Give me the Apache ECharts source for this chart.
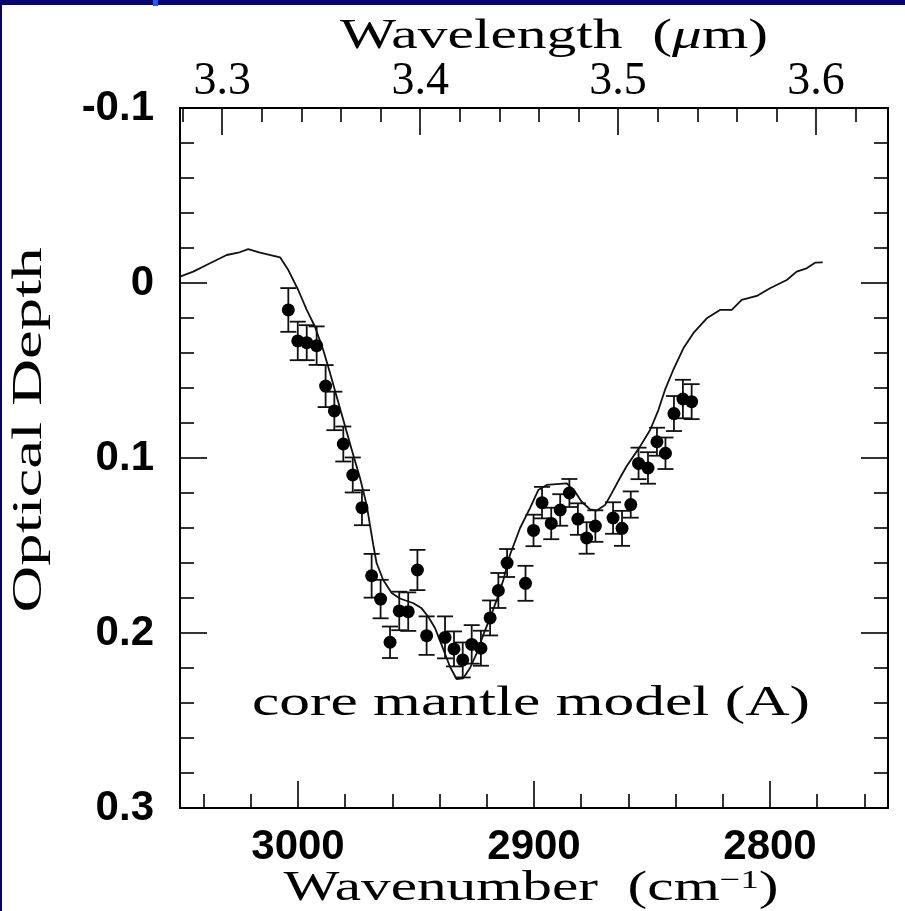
<!DOCTYPE html>
<html>
<head>
<meta charset="utf-8">
<script src="https://cdn.jsdelivr.net/npm/echarts@6/dist/echarts.min.js"></script>
<style>
html,body{margin:0;padding:0;background:#fff;}
#chart{width:905px;height:911px;}
</style>
</head>
<body>
<div id="chart"></div>
<script>
// ---- Observed data (wavenumber in cm^-1, optical depth) ----
const wavenumber = [3004.1, 3000.1, 2996.3, 2992.1, 2988.3, 2984.6, 2980.8, 2976.8, 2972.9, 2968.8,
  2965.0, 2961.0, 2957.1, 2953.3, 2949.4, 2945.5, 2937.7, 2933.9, 2930.2, 2926.4,
  2922.5, 2918.6, 2915.1, 2911.4, 2903.6, 2900.2, 2896.6, 2892.7, 2888.9, 2885.0,
  2881.4, 2877.7, 2874.0, 2866.5, 2862.7, 2859.0, 2855.7, 2851.7, 2847.9, 2844.3,
  2840.7, 2836.9, 2833.2];
const opticalDepth = [0.0154, 0.0331, 0.0341, 0.0358, 0.0589, 0.0731, 0.0920, 0.1097, 0.1284, 0.1673,
  0.1806, 0.2053, 0.1874, 0.1878, 0.1640, 0.2015, 0.2025, 0.2091, 0.2154, 0.2065,
  0.2087, 0.1914, 0.1757, 0.1600, 0.1716, 0.1414, 0.1255, 0.1374, 0.1297, 0.1200,
  0.1349, 0.1457, 0.1389, 0.1343, 0.1402, 0.1266, 0.1031, 0.1057, 0.0907, 0.0973,
  0.0746, 0.0663, 0.0678];
const depthError = [0.0125, 0.011, 0.010, 0.011, 0.012, 0.011, 0.010, 0.010, 0.010, 0.0125,
  0.011, 0.009, 0.011, 0.011, 0.0115, 0.011, 0.012, 0.010, 0.010, 0.011,
  0.010, 0.010, 0.010, 0.008, 0.010, 0.009, 0.009, 0.009, 0.009, 0.008,
  0.009, 0.009, 0.009, 0.009, 0.010, 0.0075, 0.009, 0.009, 0.008, 0.009,
  0.010, 0.011, 0.010];

// ---- Core mantle model (A) ----
const modelWavenumber = [3050, 3044.4, 3037.3, 3030.2, 3025.3, 3021.1, 3016.1, 3007.6, 3004.1, 2999.9,
  2996.3, 2992.8, 2989.3, 2986.4, 2983.6, 2980.8, 2977.2, 2973.7, 2970.9, 2969.5,
  2968.1, 2966.7, 2963.9, 2960.3, 2956.8, 2951.1, 2947.6, 2944.8, 2941.9, 2939.1,
  2935.6, 2932.8, 2930.0, 2927.1, 2924.3, 2921.5, 2918.6, 2915.8, 2913.0, 2910.2,
  2905.9, 2901.7, 2898.2, 2894.6, 2890.4, 2886.1, 2882.6, 2879.8, 2876.3, 2873.4,
  2869.9, 2867.1, 2863.6, 2860.7, 2855.1, 2850.8, 2847.3, 2844.5, 2841.0, 2836.7,
  2832.5, 2826.8, 2821.2, 2816.2, 2812.0, 2805.6, 2800.0, 2792.9, 2788.7, 2784.5,
  2780.9, 2777.7];
const modelDepth = [-0.0036, -0.0065, -0.0113, -0.0160, -0.0173, -0.0194, -0.0173, -0.0147, -0.0074, 0.0040,
  0.0154, 0.0250, 0.0383, 0.0516, 0.0650, 0.0783, 0.0954, 0.1116, 0.1269, 0.1383,
  0.1497, 0.1600, 0.1697, 0.1771, 0.1803, 0.1830, 0.1859, 0.1907, 0.1973, 0.2069,
  0.2193, 0.2263, 0.2259, 0.2200, 0.2116, 0.2011, 0.1914, 0.1811, 0.1697, 0.1554,
  0.1400, 0.1286, 0.1183, 0.1154, 0.1149, 0.1145, 0.1193, 0.1250, 0.1293, 0.1300,
  0.1269, 0.1202, 0.1114, 0.1046, 0.0935, 0.0840, 0.0726, 0.0611, 0.0497, 0.0373,
  0.0287, 0.0202, 0.0154, 0.0154, 0.0097, 0.0074, 0.0030, -0.0017, -0.0065, -0.0084,
  -0.0116, -0.0118];

// ---- Axes / ticks ----
const wavenumberRange = [2750, 3050];
const wavenumberMajorTicks = [3000, 2900, 2800];
const wavenumberMinorTicks = [3040, 3020, 2980, 2960, 2940, 2920, 2880, 2860, 2840, 2820, 2780, 2760];
const wavelengthMajorTicks = [3.3, 3.4, 3.5, 3.6];
const wavelengthMinorTicks = [3.28, 3.32, 3.34, 3.36, 3.38, 3.42, 3.44, 3.46, 3.48, 3.52, 3.54, 3.56, 3.58, 3.62];
const depthRange = [-0.1, 0.3];
const depthTickLabels = ['-0.1', '0', '0.1', '0.2', '0.3'];

const xTitle = ['Wavenumber  (cm', '\u22121', ')'];
const topTitle = ['Wavelength  (', '\u03bc', 'm)'];
const yTitle = 'Optical Depth';
const annotation = 'core mantle model (A)';

// ---- Layout ----
const G = {left: 180, top: 108, width: 708, height: 700};
const SERIF = 'Liberation Serif';
const SANS = 'Liberation Sans';
const TF = 42;

const ctx = document.createElement('canvas').getContext('2d');
function tw(parts) {
  let w = 0;
  parts.forEach(p => { ctx.font = p[1]; w += ctx.measureText(p[0]).width; });
  return w;
}
const fN = TF + 'px "' + SERIF + '"';
const fI = 'italic ' + TF + 'px "' + SERIF + '"';
const fS = '26px "' + SERIF + '"';
const sTop = 428 / tw([[topTitle[0], fN], [topTitle[1], fI], [topTitle[2], fN]]);
const sBot = 495 / tw([[xTitle[0], fN], [xTitle[1], fS], [xTitle[2], fN]]);
const sY = 365 / tw([[yTitle, fN]]);
const sAnn = 558 / tw([[annotation, fN]]);

const black = '#000';
const tickStyle = {color: black, width: 1.6};

const chart = echarts.init(document.getElementById('chart'), null, {renderer: 'canvas'});

const option = {
  animation: false,
  backgroundColor: '#fff',
  grid: Object.assign({containLabel: false, outerBoundsMode: 'none'}, G),
  xAxis: [
    {
      type: 'value', position: 'bottom', min: wavenumberRange[0], max: wavenumberRange[1], inverse: true,
      axisLine: {show: true, onZero: false, lineStyle: {color: black, width: 2}},
      axisTick: {show: true, inside: true, length: 27, customValues: wavenumberMajorTicks, lineStyle: tickStyle},
      axisLabel: {show: true, customValues: wavenumberMajorTicks, margin: 18, color: black,
        fontFamily: SANS, fontSize: 42, fontWeight: 'bold', formatter: v => String(Math.round(v))},
      splitLine: {show: false}
    },
    {
      type: 'value', position: 'bottom', min: wavenumberRange[0], max: wavenumberRange[1], inverse: true,
      axisLine: {show: false, onZero: false},
      axisTick: {show: true, inside: true, length: 14, customValues: wavenumberMinorTicks, lineStyle: tickStyle},
      axisLabel: {show: false}, splitLine: {show: false}
    },
    {
      type: 'value', position: 'top', min: 1e4 / wavenumberRange[1], max: 1e4 / wavenumberRange[0],
      axisLine: {show: true, onZero: false, lineStyle: {color: black, width: 2}},
      axisTick: {show: true, inside: true, length: 27, customValues: wavelengthMajorTicks, lineStyle: tickStyle},
      axisLabel: {show: true, customValues: wavelengthMajorTicks, margin: 3, color: black,
        fontFamily: SERIF, fontSize: 46, formatter: v => v.toFixed(1)},
      splitLine: {show: false}
    },
    {
      type: 'value', position: 'top', min: 1e4 / wavenumberRange[1], max: 1e4 / wavenumberRange[0],
      axisLine: {show: false, onZero: false},
      axisTick: {show: true, inside: true, length: 14, customValues: wavelengthMinorTicks, lineStyle: tickStyle},
      axisLabel: {show: false}, splitLine: {show: false}
    }
  ],
  yAxis: [
    {
      type: 'value', position: 'left', min: depthRange[0], max: depthRange[1], interval: 0.1, inverse: true,
      axisLine: {show: true, onZero: false, lineStyle: {color: black, width: 2}},
      axisTick: {show: true, inside: true, length: 27, lineStyle: tickStyle},
      minorTick: {show: true, splitNumber: 5, length: 14, lineStyle: tickStyle},
      axisLabel: {show: true, margin: 26, color: black, fontFamily: SANS, fontSize: 42, fontWeight: 'bold',
        formatter: (v, i) => depthTickLabels[i] !== undefined ? depthTickLabels[i] : String(Math.round(v * 10) / 10)},
      splitLine: {show: false}, minorSplitLine: {show: false}
    },
    {
      type: 'value', position: 'right', min: depthRange[0], max: depthRange[1], interval: 0.1, inverse: true,
      axisLine: {show: true, onZero: false, lineStyle: {color: black, width: 2}},
      axisTick: {show: true, inside: true, length: 27, lineStyle: tickStyle},
      minorTick: {show: true, splitNumber: 5, length: 14, lineStyle: tickStyle},
      axisLabel: {show: false},
      splitLine: {show: false}, minorSplitLine: {show: false}
    }
  ],
  series: [
    {
      name: 'model', type: 'line', xAxisIndex: 0, yAxisIndex: 0,
      data: modelWavenumber.map((w, i) => [w, modelDepth[i]]),
      showSymbol: false, symbol: 'none', smooth: false,
      lineStyle: {color: '#111', width: 1.8}, z: 2
    },
    {
      name: 'errors', type: 'custom', xAxisIndex: 0, yAxisIndex: 0,
      data: wavenumber.map((w, i) => [w, opticalDepth[i] - depthError[i], opticalDepth[i] + depthError[i]]),
      encode: {x: 0, y: [1, 2]},
      renderItem: function (params, api) {
        const x = api.value(0);
        const a = api.coord([x, api.value(1)]);
        const b = api.coord([x, api.value(2)]);
        const hw = 8;
        const st = {stroke: '#111', lineWidth: 1.8};
        return {
          type: 'group',
          children: [
            {type: 'line', shape: {x1: a[0], y1: a[1], x2: b[0], y2: b[1]}, style: st},
            {type: 'line', shape: {x1: a[0] - hw, y1: a[1], x2: a[0] + hw, y2: a[1]}, style: st},
            {type: 'line', shape: {x1: b[0] - hw, y1: b[1], x2: b[0] + hw, y2: b[1]}, style: st}
          ]
        };
      },
      z: 3
    },
    {
      name: 'data', type: 'scatter', xAxisIndex: 0, yAxisIndex: 0,
      data: wavenumber.map((w, i) => [w, opticalDepth[i]]),
      symbol: 'circle', symbolSize: 13,
      itemStyle: {color: '#000', borderWidth: 0, opacity: 1}, z: 4
    }
  ],
  graphic: [
    {type: 'rect', left: 0, top: 0, shape: {width: 905, height: 5}, style: {fill: '#06066e'}, z: 10},
    {type: 'rect', left: 0, top: 0, shape: {width: 2, height: 911}, style: {fill: '#06066e'}, z: 10},
    {type: 'rect', left: 153, top: 0, shape: {width: 5, height: 6}, style: {fill: '#1e5bff'}, z: 11},
    {
      type: 'text', x: 554, y: 37, scaleX: sTop, z: 10,
      style: {
        text: '{r|' + topTitle[0] + '}{i|' + topTitle[1] + '}{r|' + topTitle[2] + '}',
        rich: {
          r: {fontFamily: SERIF, fontSize: TF, fill: black},
          i: {fontFamily: SERIF, fontSize: TF, fontStyle: 'italic', fill: black}
        },
        align: 'center', verticalAlign: 'middle', textAlign: 'center', textVerticalAlign: 'middle'
      }
    },
    {
      type: 'text', x: 531, y: 889, scaleX: sBot, z: 10,
      style: {
        text: '{r|' + xTitle[0] + '}{s|' + xTitle[1] + '}{r|' + xTitle[2] + '}',
        rich: {
          r: {fontFamily: SERIF, fontSize: TF, fill: black},
          s: {fontFamily: SERIF, fontSize: 26, fill: black, verticalAlign: 'top'}
        },
        align: 'center', verticalAlign: 'middle', textAlign: 'center', textVerticalAlign: 'middle'
      }
    },
    {
      type: 'text', x: 30, y: 430, rotation: Math.PI / 2, scaleX: sY, z: 10,
      style: {
        text: yTitle, fontFamily: SERIF, fontSize: TF, fill: black,
        align: 'center', verticalAlign: 'middle', textAlign: 'center', textVerticalAlign: 'middle'
      }
    },
    {
      type: 'text', x: 531, y: 704, scaleX: sAnn, z: 10,
      style: {
        text: annotation, fontFamily: SERIF, fontSize: TF, fill: black,
        align: 'center', verticalAlign: 'middle', textAlign: 'center', textVerticalAlign: 'middle'
      }
    }
  ]
};
chart.setOption(option);
</script>
</body>
</html>
